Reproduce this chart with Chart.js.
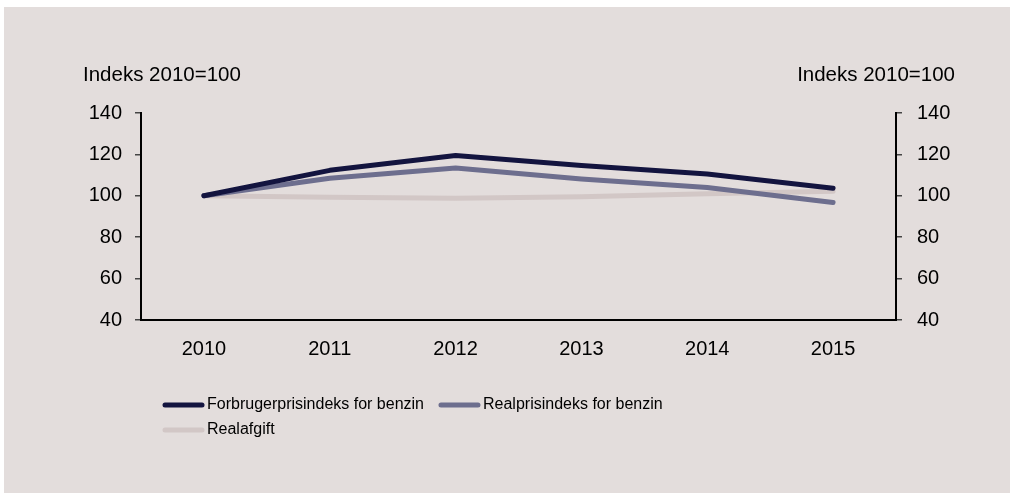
<!DOCTYPE html>
<html>
<head>
<meta charset="utf-8">
<script src="https://cdn.jsdelivr.net/npm/chart.js@4.4.1/dist/chart.umd.min.js"></script>
<style>
  html, body { margin: 0; padding: 0; background: #ffffff; }
  #wrap { width: 1011px; height: 499px; }
</style>
</head>
<body>
<div id="wrap"><canvas id="line-chart"></canvas></div>
<script>
const years = ["2010", "2011", "2012", "2013", "2014", "2015"];
const forbrugerpris = [100, 112.3, 119.5, 114.6, 110.5, 103.7];
const realpris = [100, 108.5, 113.4, 108.1, 104.0, 96.8];
const realafgift = [100, 99.3, 98.8, 99.6, 101.0, 102.2];
const yMin = 40, yMax = 140, yStep = 20;
const axisTitle = "Indeks 2010=100";

const FONT = "'Liberation Sans', Arial, sans-serif";

// background panel with the thin white border around it
const panelBg = {
    id: 'panelBg',
    beforeDraw(chart) {
        const ctx = chart.ctx;
        ctx.save();
        ctx.fillStyle = '#e3dddc';
        ctx.fillRect(4, 7, 1006, 486);
        ctx.restore();
    }
};

// "Indeks 2010=100" above both y axes
const axisTitles = {
    id: 'axisTitles',
    afterDraw(chart) {
        const ctx = chart.ctx, a = chart.chartArea;
        ctx.save();
        ctx.font = '20.5px ' + FONT;
        ctx.fillStyle = '#000';
        ctx.textBaseline = 'middle';
        ctx.textAlign = 'left';
        ctx.fillText(axisTitle, a.left - 58, 75);
        ctx.textAlign = 'right';
        ctx.fillText(axisTitle, a.right + 59, 75);
        ctx.restore();
    }
};

// legend drawn below, left aligned, wrapping
const lineLegend = {
    id: 'lineLegend',
    afterDraw(chart) {
        const ctx = chart.ctx;
        ctx.save();
        ctx.font = '16px ' + FONT;
        ctx.textBaseline = 'middle';
        ctx.textAlign = 'left';
        let x = 163, y = 405;
        chart.data.datasets.forEach(ds => {
            const w = 41 + 3 + ctx.measureText(ds.label).width;
            if (x > 163 && x + w > 700) { x = 163; y += 25; }
            ctx.strokeStyle = ds.borderColor;
            ctx.lineWidth = 5;
            ctx.lineCap = 'round';
            ctx.beginPath();
            ctx.moveTo(x + 2, y);
            ctx.lineTo(x + 39, y);
            ctx.stroke();
            ctx.fillStyle = '#000';
            ctx.fillText(ds.label, x + 44, y);
            x += w + 15;
        });
        ctx.restore();
    }
};

const yAxis = (pos, pad, width) => ({
    position: pos,
    min: yMin,
    max: yMax,
    ticks: { stepSize: yStep, padding: pad, color: '#000', font: { size: 20, family: FONT } },
    grid: { drawOnChartArea: false, drawTicks: true, tickLength: 6, color: '#444', lineWidth: 1.5 },
    border: { display: true, color: '#000', width: 2 },
    afterFit(scale) { scale.width = width; }
});

new Chart(document.getElementById("line-chart"), {
    type: 'line',
    data: {
        labels: years,
        datasets: [
            { label: "Forbrugerprisindeks for benzin", data: forbrugerpris, borderColor: '#13143f', yAxisID: 'y' },
            { label: "Realprisindeks for benzin", data: realpris, borderColor: '#6d6e8e', yAxisID: 'y' },
            { label: "Realafgift", data: realafgift, borderColor: '#d2c7c6', yAxisID: 'y' }
        ]
    },
    options: {
        responsive: true,
        maintainAspectRatio: false,
        animation: false,
        layout: { padding: { left: 60, right: 55, top: 113, bottom: 124 } },
        elements: {
            line: { borderWidth: 5, tension: 0, borderCapStyle: 'round', borderJoinStyle: 'round' },
            point: { radius: 0, hoverRadius: 0 }
        },
        plugins: { legend: { display: false }, tooltip: { enabled: false } },
        scales: {
            x: {
                offset: true,
                grid: { display: false },
                border: { display: true, color: '#000', width: 2 },
                ticks: { padding: 9, color: '#000', font: { size: 20, family: FONT } },
                afterFit(scale) { scale.height = 55; }
            },
            y: yAxis('left', 13, 81),
            y2: yAxis('right', 15, 60)
        }
    },
    plugins: [panelBg, axisTitles, lineLegend]
});
</script>
</body>
</html>
